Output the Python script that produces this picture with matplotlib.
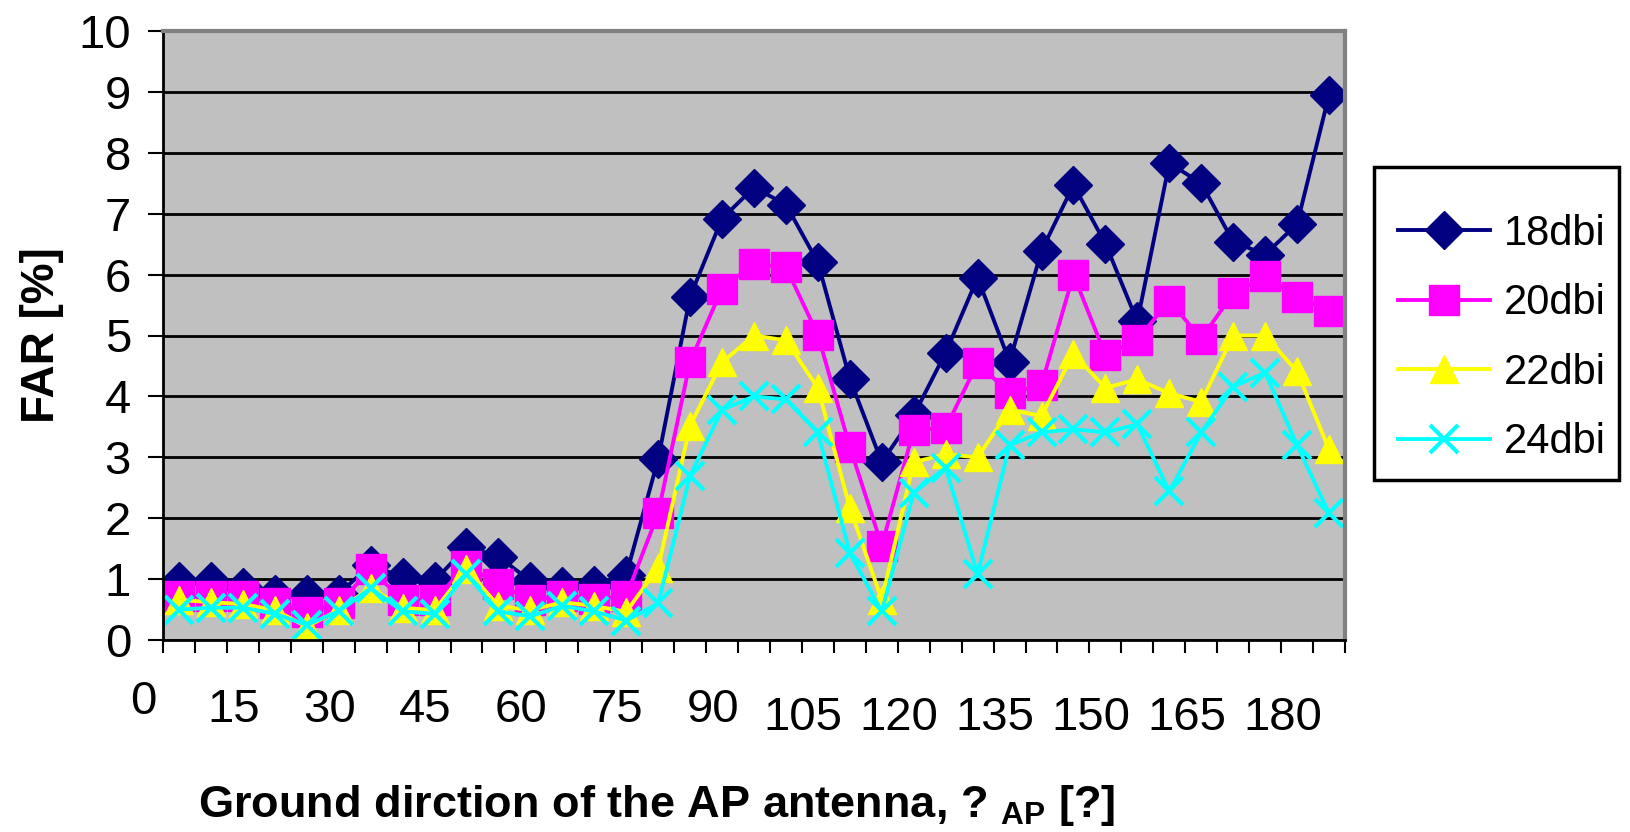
import matplotlib
matplotlib.use('Agg')
import matplotlib.pyplot as plt
from matplotlib.patches import Rectangle
import numpy as np

# angles 0..180 step 5, FAR values
angles = list(range(0, 181, 5))
far_18 = [0.97, 0.97, 0.87, 0.75, 0.75, 0.76, 1.23, 1.03, 0.97, 1.53, 1.37, 0.97, 0.88,
          0.90, 1.07, 2.97, 5.64, 6.92, 7.43, 7.15, 6.20, 4.29, 2.92, 3.69, 4.72, 5.95,
          4.57, 6.39, 7.47, 6.51, 5.23, 7.83, 7.50, 6.54, 6.33, 6.83, 8.95]
far_20 = [0.72, 0.72, 0.72, 0.60, 0.46, 0.60, 1.16, 0.66, 0.66, 1.22, 0.92, 0.66, 0.72,
          0.68, 0.72, 2.08, 4.57, 5.77, 6.18, 6.12, 5.01, 3.17, 1.55, 3.45, 3.48, 4.55,
          4.05, 4.19, 6.00, 4.68, 4.93, 5.57, 4.95, 5.69, 5.97, 5.64, 5.41]
far_22 = [0.66, 0.62, 0.59, 0.49, 0.22, 0.49, 0.86, 0.53, 0.49, 1.16, 0.56, 0.49, 0.62,
          0.56, 0.46, 1.19, 3.52, 4.56, 5.00, 4.92, 4.14, 2.17, 0.66, 2.92, 3.05, 3.00,
          3.78, 3.68, 4.70, 4.14, 4.28, 4.05, 3.91, 5.00, 5.00, 4.41, 3.13]
far_24 = [0.50, 0.53, 0.53, 0.43, 0.25, 0.47, 0.85, 0.47, 0.43, 1.08, 0.47, 0.39, 0.56,
          0.47, 0.32, 0.60, 2.70, 3.78, 4.00, 3.95, 3.41, 1.43, 0.47, 2.42, 2.83, 1.08,
          3.20, 3.41, 3.46, 3.41, 3.54, 2.44, 3.41, 4.16, 4.39, 3.20, 2.08]
series_names = ['18dbi', '20dbi', '22dbi', '24dbi']
x_labels = ['0', '15', '30', '45', '60', '75', '90', '105', '120', '135', '150', '165', '180']

plt.rcParams['mathtext.fontset'] = 'custom'
plt.rcParams['mathtext.bf'] = 'Liberation Sans:bold'
plt.rcParams['mathtext.rm'] = 'Liberation Sans:bold'
sans = ['Liberation Sans', 'DejaVu Sans']

W, H = 1631, 832
fig = plt.figure(figsize=(W / 100, H / 100), dpi=100)
ax = fig.add_axes([163 / W, 1 - 640 / H, (1345 - 163) / W, (640 - 31) / H])
ax.set_facecolor('#c0c0c0')

x = np.arange(len(angles))
styles = [
    dict(color='#000080', marker='D', ms=19),
    dict(color='#ff00ff', marker='s', ms=21),
    dict(color='#ffff00', marker='^', ms=20),
    dict(color='#00ffff', marker='x', ms=20, mew=3),
]
for name, vals, st in zip(series_names, [far_18, far_20, far_22, far_24], styles):
    ax.plot(x, vals, lw=2.8, label=name, **st)

ax.set_xlim(-0.5, len(angles) - 0.5)
ax.set_ylim(0, 10)
ax.set_yticks(range(11))
ax.yaxis.grid(True, color='black', lw=2)
ax.set_axisbelow(True)
ax.set_xticks(np.arange(-0.5, len(angles), 1))
ax.set_xticklabels([])
ax.tick_params(axis='x', direction='out', length=9, width=1.5, color='black')
ax.tick_params(axis='y', direction='out', length=11, width=1.5, color='black', pad=12,
               labelsize=34)
for t in ax.get_yticklabels():
    t.set_family(sans)

for side in ['top', 'right']:
    ax.spines[side].set_color('#808080')
    ax.spines[side].set_linewidth(3)
for side in ['left', 'bottom']:
    ax.spines[side].set_color('black')
    ax.spines[side].set_linewidth(2)

# Excel-style staggered category labels, every third category
for lab in x_labels:
    idx = angles.index(int(lab))
    n = len(lab)
    ax.annotate(lab, xy=(idx - 0.95 - 0.17 * n, 0), xycoords=('data', 'axes fraction'),
                xytext=(0, -(39 + 5.8 * n)), textcoords='offset points',
                ha='center', va='center', fontsize=34, family=sans)

fig.text(42 / W, 1 - 335 / H, 'FAR [%]', rotation=90, ha='center', va='center',
         fontsize=33, fontweight='bold', family=sans)
fig.text(657 / W, 1 - 806 / H, r'Ground dirction of the AP antenna, ? $_{\mathbf{AP}}$ [?]',
         ha='center', va='center', fontsize=32.5, fontweight='bold', family=sans)

# legend entries without frame, frame drawn as Excel-like box
leg = ax.legend(loc='center left', bbox_to_anchor=(1398 / W, 1 - 338 / H),
                bbox_transform=fig.transFigure, prop=dict(family=sans, size=30),
                frameon=False, handlelength=2.2, handletextpad=0.35, borderpad=0,
                labelspacing=0.71, borderaxespad=0)
fig.patches.append(Rectangle((1374 / W, 1 - 480 / H), (1619 - 1374) / W, (480 - 167) / H,
                             transform=fig.transFigure, fill=False, edgecolor='black',
                             lw=2.5, zorder=5))

fig.savefig('out.png', dpi=100)
